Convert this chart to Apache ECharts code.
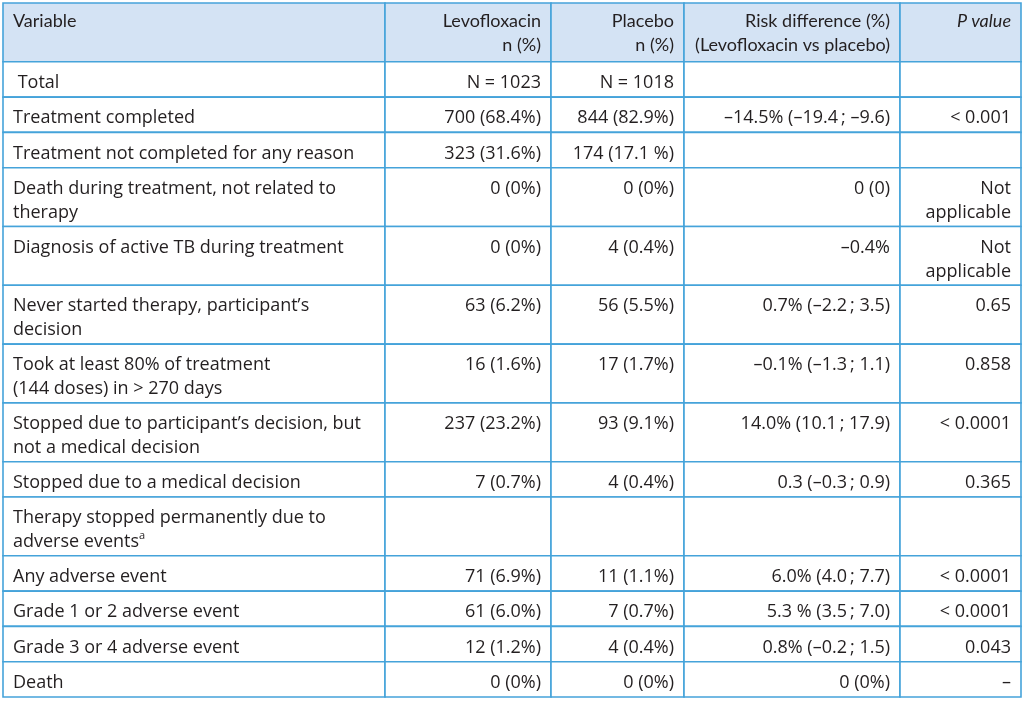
<!DOCTYPE html>
<html>
<head>
<meta charset="utf-8">
<script src="https://cdn.jsdelivr.net/npm/echarts@6/dist/echarts.min.js"></script>
<style>
html,body{margin:0;padding:0;background:#fff;}
#chart{width:1024px;height:701px;}
</style>
</head>
<body>
<div id="chart"></div>
<script>
// ---------- DATA ----------
const headers = ['Variable', 'Levofloxacin\nn (%)', 'Placebo\nn (%)', 'Risk difference (%)\n(Levofloxacin vs placebo)', '{it|P value}'];
const variables = [
  ' Total',
  'Treatment completed',
  'Treatment not completed for any reason',
  'Death during treatment, not related to\ntherapy',
  'Diagnosis of active TB during treatment',
  'Never started therapy, participant\u2019s\ndecision',
  'Took at least 80% of treatment\n(144 doses) in > 270 days',
  'Stopped due to participant\u2019s decision, but\nnot a medical decision',
  'Stopped due to a medical decision',
  'Therapy stopped permanently due to\nadverse events{sup|a}',
  'Any adverse event',
  'Grade 1 or 2 adverse event',
  'Grade 3 or 4 adverse event',
  'Death'
];
const levofloxacin = ['N = 1023', '700 (68.4%)', '323 (31.6%)', '0 (0%)', '0 (0%)', '63 (6.2%)', '16 (1.6%)', '237 (23.2%)', '7 (0.7%)', '', '71 (6.9%)', '61 (6.0%)', '12 (1.2%)', '0 (0%)'];
const placebo = ['N = 1018', '844 (82.9%)', '174 (17.1 %)', '0 (0%)', '4 (0.4%)', '56 (5.5%)', '17 (1.7%)', '93 (9.1%)', '4 (0.4%)', '', '11 (1.1%)', '7 (0.7%)', '4 (0.4%)', '0 (0%)'];
const riskDifference = ['', '\u201314.5% (\u201319.4\u2009; \u20139.6)', '', '0 (0)', '\u20130.4%', '0.7% (\u20132.2\u2009; 3.5)', '\u20130.1% (\u20131.3\u2009; 1.1)', '14.0% (10.1\u2009; 17.9)', '0.3 (\u20130.3\u2009; 0.9)', '', '6.0% (4.0\u2009; 7.7)', '5.3 % (3.5\u2009; 7.0)', '0.8% (\u20130.2\u2009; 1.5)', '0 (0%)'];
const pValues = ['', '< 0.001', '', 'Not\napplicable', 'Not\napplicable', '0.65', '0.858', '< 0.0001', '0.365', '', '< 0.0001', '< 0.0001', '0.043', '\u2013'];

// ---------- LAYOUT ----------
const tableLeft = 3, tableTop = 3;
const colWidths = [382, 166, 133, 216, 121];
const oneLineH = 35.3, twoLineH = 58.8;
const padX = 10;
const lineH = 24;
const BODY_FONT = '"Open Sans", sans-serif';
const HEAD_FONT = 'Lato, "Open Sans", sans-serif';
const fontSize = 18;
const borderColor = '#45a3da';
const headerFill = '#d4e3f4';
const textColor = '#231f20';

const table = [headers].concat(variables.map((v, i) => [v, levofloxacin[i], placebo[i], riskDifference[i], pValues[i]]));

const colEdges = [tableLeft];
colWidths.forEach(w => colEdges.push(colEdges[colEdges.length - 1] + w));
const rowEdges = [tableTop];
table.forEach(row => {
  const lines = Math.max.apply(null, row.map(t => t.split('\n').length));
  rowEdges.push(rowEdges[rowEdges.length - 1] + (lines > 1 ? twoLineH : oneLineH));
});

const cells = [];
table.forEach((row, r) => row.forEach((t, c) => cells.push({ value: [c, r], text: t })));

const chart = echarts.init(document.getElementById('chart'), null, { renderer: 'canvas' });
chart.setOption({
  backgroundColor: '#ffffff',
  animation: false,
  series: [{
    type: 'custom',
    coordinateSystem: 'none',
    data: cells,
    renderItem: function (params, api) {
      const c = api.value(0), r = api.value(1);
      const x0 = colEdges[c], x1 = colEdges[c + 1];
      const y0 = rowEdges[r], y1 = rowEdges[r + 1];
      const txt = cells[params.dataIndex].text;
      const leftAligned = c === 0;
      const isHead = r === 0;
      const fam = isHead ? HEAD_FONT : BODY_FONT;
      return {
        type: 'group',
        children: [{
          type: 'rect',
          shape: { x: x0, y: y0, width: x1 - x0, height: y1 - y0 },
          style: { fill: isHead ? headerFill : '#ffffff', stroke: borderColor, lineWidth: 1.6 }
        }, {
          type: 'text',
          style: {
            text: txt,
            x: leftAligned ? x0 + padX : x1 - padX,
            y: y0 + (isHead ? 6 : 9),
            align: leftAligned ? 'left' : 'right',
            verticalAlign: 'top',
            font: fontSize + 'px ' + fam,
            fontFamily: fam,
            fontSize: fontSize,
            lineHeight: lineH,
            fill: textColor,
            rich: {
              it: { fontStyle: 'italic', fontFamily: fam, fontSize: fontSize, lineHeight: lineH, fill: textColor },
              sup: { fontFamily: fam, fontSize: 11, lineHeight: lineH, verticalAlign: 'top', padding: [0, 0, 8, 0], fill: textColor }
            }
          }
        }]
      };
    }
  }]
});
</script>
</body>
</html>
